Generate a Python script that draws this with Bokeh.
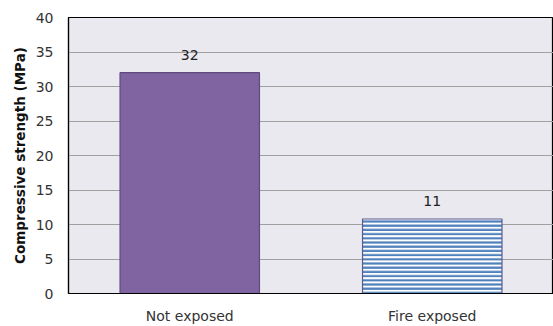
from bokeh.plotting import figure
from bokeh.models import ColumnDataSource, SingleIntervalTicker, Range1d
from bokeh.core.properties import value
from bokeh.embed import file_html
from bokeh.resources import INLINE

categories = ["Not exposed", "Fire exposed"]
strength = [32.0, 10.8]
labels = ["32", "11"]
fills = ["#8064A2", "#FFFFFF"]
lines = ["#5E4A7C", "#5A5A8C"]
hatches = [" ", "-"]

FONT = "DejaVu Sans"

src = ColumnDataSource(dict(cat=categories, v=strength, lab=labels, fill=fills,
                            line=lines, hatch=hatches))

p = figure(x_range=categories, y_range=Range1d(0, 40), width=553, height=326,
           output_backend="svg", toolbar_location=None,
           min_border_left=68, min_border_right=0, min_border_top=17, min_border_bottom=0)
p.background_fill_color = "#EBE9F0"
p.border_fill_color = "white"
p.outline_line_color = "black"
p.outline_line_width = 1.2

p.vbar(x="cat", top="v", width=0.575, source=src, fill_color="fill", line_color="line",
       line_width=1.2, hatch_pattern="hatch", hatch_color="#4F81BD", hatch_scale=4.2,
       hatch_weight=2.2)

p.text(x="cat", y="v", text="lab", source=src, text_align="center", text_baseline="middle",
       y_offset=-18, text_font=value(FONT), text_font_size="14px", text_color="#222222")

p.xgrid.grid_line_color = None
p.ygrid.grid_line_color = "#A0A0A0"
p.ygrid.grid_line_width = 1.2
p.yaxis.ticker = SingleIntervalTicker(interval=5)
p.yaxis.axis_label = "Compressive strength (MPa)"
p.yaxis.axis_label_text_font = FONT
p.yaxis.axis_label_text_font_style = "bold"
p.yaxis.axis_label_text_font_size = "13.5px"
p.yaxis.axis_label_text_color = "#111111"
p.yaxis.axis_label_standoff = 5
for ax in (p.xaxis, p.yaxis):
    ax.major_label_text_font = FONT
    ax.major_label_text_font_size = "14px"
    ax.major_label_text_color = "#333333"
    ax.major_tick_line_color = None
    ax.minor_tick_line_color = None
    ax.major_tick_out = 0
    ax.major_tick_in = 0
    ax.minor_tick_out = 0
    ax.minor_tick_in = 0
    ax.axis_line_color = "black"
    ax.axis_line_width = 1.2
p.yaxis.major_label_standoff = 15
p.xaxis.major_label_standoff = 14

open("out.html", "w").write(file_html(p, INLINE))
